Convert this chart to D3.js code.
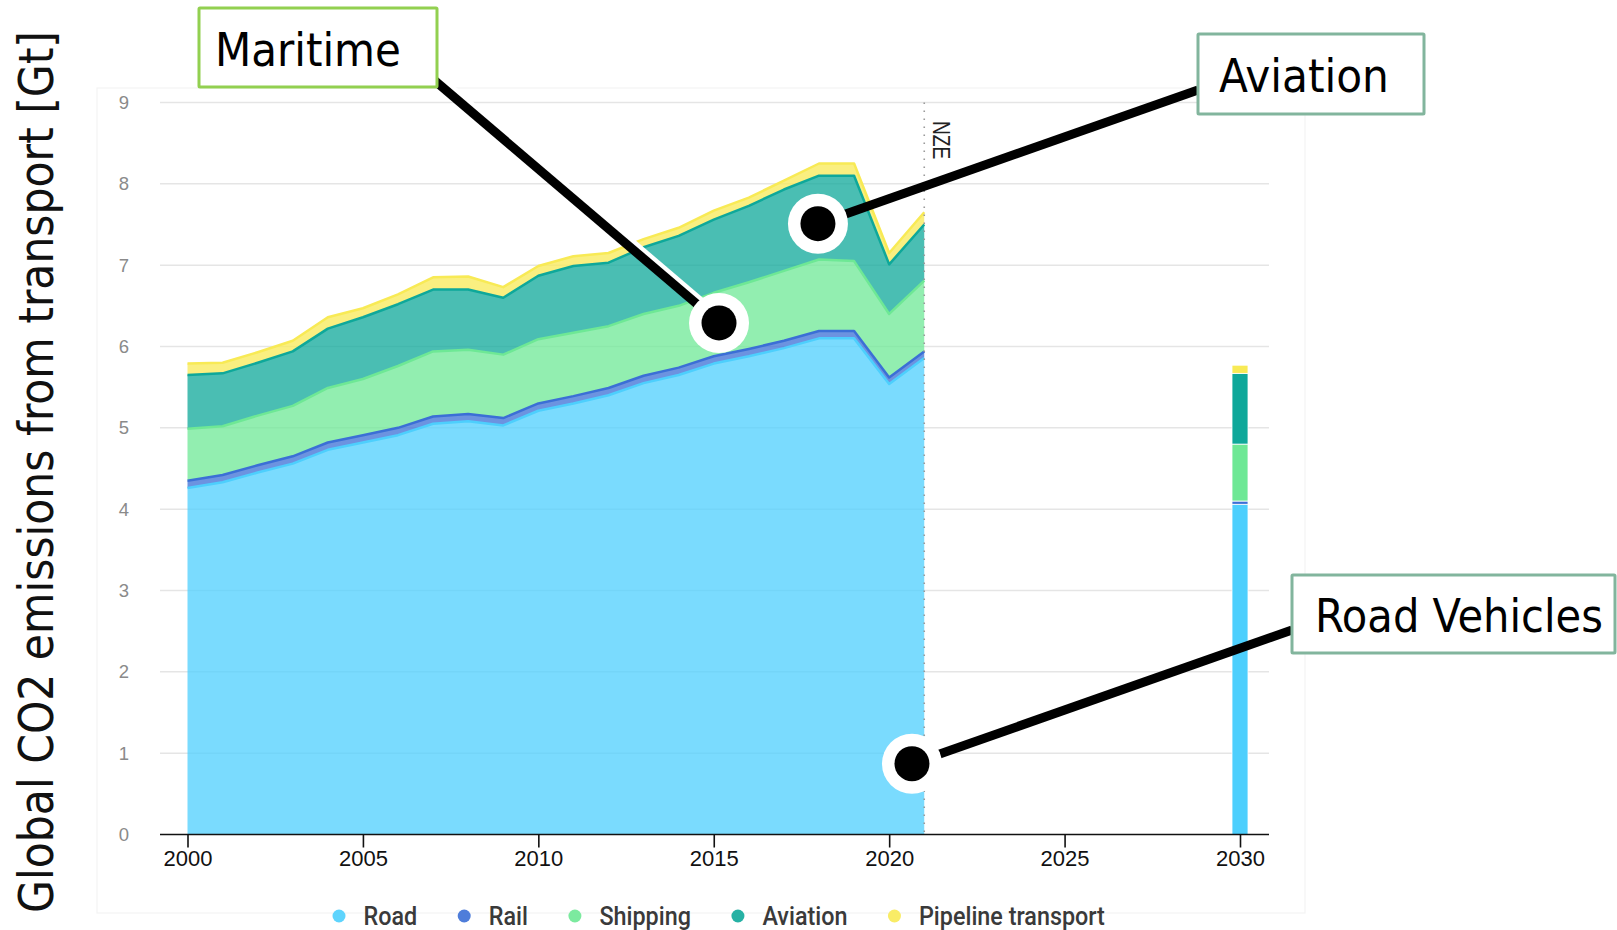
<!DOCTYPE html>
<html><head><meta charset="utf-8">
<script src="https://cdn.jsdelivr.net/npm/d3@7"></script>
<style>body{margin:0;background:#fff}svg{display:block}</style>
</head><body><svg id="c" width="1617" height="930"></svg>
<script>
// ---------- DATA ----------
const years = [2000,2001,2002,2003,2004,2005,2006,2007,2008,2009,2010,2011,2012,2013,2014,2015,2016,2017,2018,2019,2020,2021];
const seriesNames = ["Road","Rail","Shipping","Aviation","Pipeline transport"];
const road     = [4.26,4.33,4.45,4.56,4.73,4.82,4.91,5.05,5.08,5.03,5.21,5.30,5.40,5.55,5.65,5.79,5.88,5.98,6.10,6.10,5.54,5.86];
const rail     = [0.09,0.09,0.09,0.09,0.09,0.09,0.09,0.09,0.09,0.09,0.09,0.09,0.09,0.09,0.09,0.09,0.09,0.09,0.09,0.09,0.08,0.08];
const shipping = [0.64,0.60,0.61,0.62,0.67,0.69,0.76,0.80,0.79,0.78,0.79,0.78,0.76,0.76,0.76,0.78,0.82,0.86,0.88,0.86,0.78,0.87];
const aviation = [0.66,0.65,0.65,0.67,0.73,0.76,0.76,0.76,0.74,0.70,0.78,0.82,0.78,0.82,0.86,0.90,0.94,1.00,1.03,1.05,0.61,0.69];
const pipeline = [0.14,0.13,0.13,0.13,0.14,0.11,0.12,0.15,0.16,0.13,0.12,0.12,0.12,0.10,0.10,0.11,0.10,0.11,0.15,0.15,0.14,0.15];
const nzeYear = 2030;
const nze2030 = [4.06,0.04,0.70,0.87,0.10];   // Road, Rail, Shipping, Aviation, Pipeline
const nzeLineYear = 2021;
const nzeLabel = "NZE";
const xTicks = [2000,2005,2010,2015,2020,2025,2030];
const yTicks = [0,1,2,3,4,5,6,7,8,9];
const yTitle = "Global CO2 emissions from transport [Gt]";
const annoLabels = ["Maritime","Aviation","Road Vehicles"];
const annoYears  = [2015.15, 2017.97, 2020.65];
const annoValues = [6.29, 7.51, 0.87];

// ---------- STYLE ----------
const colors = ["#4dcffd","#3b6fd6","#6ee895","#0ea89a","#f8ea55"];
const annoFont = '"DejaVu Sans Condensed","Liberation Sans",Arial,sans-serif';
const svg = d3.select("#c");
const x = d3.scaleLinear().domain([2000,2030]).range([187.5,1240]);
const y = d3.scaleLinear().domain([0,9]).range([834.5,102.5]);

function fitText(sel, base, target){
  sel.attr("font-size", base);
  const w = sel.node().getComputedTextLength();
  sel.attr("font-size", base*target/w);
}

// faint panel border
svg.append("rect").attr("x",97).attr("y",88).attr("width",1208).attr("height",825)
  .attr("fill","none").attr("stroke","#f3f3f3").attr("stroke-width",1.2);

// gridlines
svg.append("g").selectAll("line").data(yTicks.filter(d=>d>0)).join("line")
  .attr("x1",160).attr("x2",1269).attr("y1",d=>y(d)).attr("y2",d=>y(d))
  .attr("stroke","#e5e5e5").attr("stroke-width",1.5);

// y axis labels
const ya = svg.append("g").attr("transform","translate(132,0)")
  .call(d3.axisLeft(y).tickValues(yTicks).tickSize(0).tickPadding(3).tickFormat(d3.format("d")));
ya.select(".domain").remove();
ya.selectAll("text").attr("font-family","'Liberation Sans',Arial,sans-serif").attr("font-size",18.5).attr("fill","#8a8a8a");

// stacked areas
const table = years.map((yr,i)=>({year:yr, "Road":road[i], "Rail":rail[i], "Shipping":shipping[i], "Aviation":aviation[i], "Pipeline transport":pipeline[i]}));
const stack = d3.stack().keys(seriesNames)(table);
const area = d3.area().x(d=>x(d.data.year)).y0(d=>y(d[0])).y1(d=>y(d[1]));
const topLine = d3.line().x(d=>x(d.data.year)).y(d=>y(d[1]));
svg.append("g").selectAll("path").data(stack).join("path")
  .attr("d",area).attr("fill",(d,i)=>colors[i]).attr("fill-opacity",0.75);
svg.append("g").selectAll("path").data(stack).join("path")
  .attr("d",topLine).attr("fill","none").attr("stroke",(d,i)=>colors[i]).attr("stroke-width",2.5)
  .attr("stroke-linejoin","round");

// 2030 NZE bar
const barRow = {year:nzeYear};
seriesNames.forEach((k,i)=>barRow[k]=nze2030[i]);
const barStack = d3.stack().keys(seriesNames)([barRow]);
svg.append("g").selectAll("rect").data(barStack).join("rect")
  .attr("x",x(nzeYear)-8).attr("width",16)
  .attr("y",d=>y(d[0][1])).attr("height",d=>y(d[0][0])-y(d[0][1]))
  .attr("fill",(d,i)=>colors[i]).attr("stroke","#fff").attr("stroke-width",0.8);

// NZE dotted line and label
svg.append("line").attr("x1",x(nzeLineYear)).attr("x2",x(nzeLineYear)).attr("y1",y(9)).attr("y2",y(0))
  .attr("stroke","#9a9a9a").attr("stroke-width",1.6).attr("stroke-dasharray","1.6,6.4");
svg.append("text").attr("transform",`translate(${x(nzeLineYear)+9},121) rotate(90) scale(0.8,1)`)
  .attr("font-family","'Liberation Sans',Arial,sans-serif").attr("font-size",24).attr("fill","#222")
  .text(nzeLabel);

// x axis
svg.append("line").attr("x1",160).attr("x2",1269).attr("y1",y(0)).attr("y2",y(0))
  .attr("stroke","#111").attr("stroke-width",1.6);
const xa = svg.append("g").attr("transform",`translate(0,${y(0)})`)
  .call(d3.axisBottom(x).tickValues(xTicks).tickSize(13).tickPadding(3).tickFormat(d3.format("d")));
xa.select(".domain").remove();
xa.selectAll(".tick line").attr("stroke","#111").attr("stroke-width",1.6);
xa.selectAll("text").attr("font-family","'Liberation Sans',Arial,sans-serif").attr("font-size",22).attr("fill","#111");

// legend
const lg = svg.append("g").attr("font-family","Roboto,'Liberation Sans',sans-serif").attr("font-weight",500);
const probe = lg.append("text").attr("font-size",25).text(seriesNames[4]);
const k = 186/probe.node().getComputedTextLength();
probe.remove();
let cx = 339;
seriesNames.forEach((n,i)=>{
  lg.append("circle").attr("cx",cx).attr("cy",916).attr("r",6.5).attr("fill",colors[i]).attr("fill-opacity",0.9);
  const t = lg.append("text").attr("transform",`translate(${cx+24.5},925) scale(${k},1)`)
    .attr("font-size",25).attr("fill","#3a3a3a").text(n);
  cx = cx + 24.5 + t.node().getComputedTextLength()*k + 47;
});

// y title
const yt = svg.append("text").attr("transform","translate(53,472) rotate(-90)")
  .attr("text-anchor","middle").attr("font-family",annoFont).attr("fill","#111").text(yTitle);
fitText(yt, 48, 882);

// annotations
const boxes = [
  {bx:199, by:8,   bw:238, bh:79, col:"#92d050", tx:215,  ty:66,  tw:186, lx:434,  ly:80},
  {bx:1198,by:34,  bw:226, bh:80, col:"#82b59d", tx:1219, ty:92,  tw:170, lx:1198, ly:90},
  {bx:1292,by:575, bw:323, bh:78, col:"#82b59d", tx:1315, ty:632, tw:288, lx:1292, ly:630}
];
const ag = svg.append("g");
annoLabels.forEach((lab,i)=>{
  const b = boxes[i];
  const px = x(annoYears[i]), py = y(annoValues[i]);
  if(i===0){
    ag.append("line").attr("x1",b.lx+3).attr("y1",b.ly-3).attr("x2",px+3).attr("y2",py-3)
      .attr("stroke","#fff").attr("stroke-width",9);
  }
  ag.append("line").attr("x1",b.lx).attr("y1",b.ly).attr("x2",px).attr("y2",py)
    .attr("stroke","#000").attr("stroke-width",9);
  ag.append("circle").attr("cx",px).attr("cy",py).attr("r",30).attr("fill","#fff");
  ag.append("circle").attr("cx",px).attr("cy",py).attr("r",17.5).attr("fill","#000");
});
annoLabels.forEach((lab,i)=>{
  const b = boxes[i];
  ag.append("rect").attr("x",b.bx).attr("y",b.by).attr("width",b.bw).attr("height",b.bh)
    .attr("fill","#fff").attr("stroke",b.col).attr("stroke-width",3).attr("rx",1);
  const t = ag.append("text").attr("x",b.tx).attr("y",b.ty).attr("font-family",annoFont).attr("fill","#000").text(lab);
  fitText(t, 46, b.tw);
});
</script></body></html>
